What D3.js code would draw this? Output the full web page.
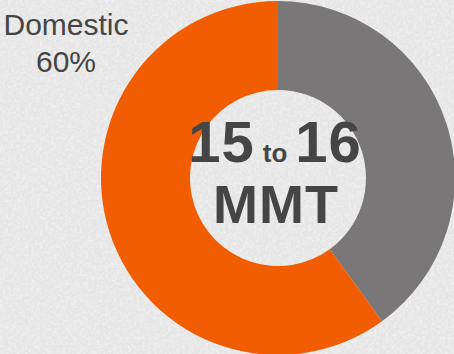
<!DOCTYPE html>
<html><head><meta charset="utf-8">
<script src="https://cdn.jsdelivr.net/npm/d3@7"></script>
<style>html,body{margin:0;padding:0;overflow:hidden;background:#ebebeb}</style>
</head><body>
<script>
const categories = ["Export", "Domestic"];
const shares = [40, 60];
const colors = ["#797777", "#f15d00"];
const labelLines = ["Domestic", "60%"];
const centerLine1 = ["15", "to", "16"];
const centerLine2 = "MMT";

const W = 454, H = 354;
const svg = d3.select("body").append("svg").attr("width", W).attr("height", H);
const defs = svg.append("defs");
const f = defs.append("filter").attr("id","tex").attr("x",0).attr("y",0).attr("width","100%").attr("height","100%");
f.append("feTurbulence").attr("type","fractalNoise").attr("baseFrequency",0.35).attr("numOctaves",3).attr("seed",4).attr("result","n");
f.append("feColorMatrix").attr("in","n").attr("type","matrix")
 .attr("values","0 0 0 0 1  0 0 0 0 1  0 0 0 0 1  0.9 0 0 0 -0.35").attr("result","w");
f.append("feComposite").attr("in","w").attr("in2","SourceGraphic").attr("operator","over");
svg.append("rect").attr("width",W).attr("height",H).attr("fill","#e6e6e6").attr("filter","url(#tex)");

const cx = 278, cy = 178, R = 177, r = 88;
const pie = d3.pie().sort(null).value(d => d);
const arc = d3.arc().innerRadius(r).outerRadius(R);
const g = svg.append("g").attr("transform", `translate(${cx},${cy})`);
g.selectAll("path").data(pie(shares)).join("path")
  .attr("d", arc).attr("fill", (d,i) => colors[i]);

// label
const lab = svg.append("text").attr("font-family","Arial, 'Liberation Sans', sans-serif")
  .attr("font-size",30).attr("fill","#454545").attr("text-anchor","middle");
lab.selectAll("tspan").data(labelLines).join("tspan")
  .attr("x",66).attr("y",(d,i)=>35+i*37).text(d=>d);

// center text
const t1 = svg.append("text").attr("font-family","Arial, 'Liberation Sans', sans-serif")
  .attr("font-weight","bold").attr("fill","#454545").attr("text-anchor","middle")
  .attr("x",275).attr("y",162);
t1.append("tspan").attr("font-size",58).attr("letter-spacing",1).text(centerLine1[0]);
t1.append("tspan").attr("font-size",26).attr("dx",8).text(centerLine1[1]);
t1.append("tspan").attr("font-size",58).attr("dx",8).attr("letter-spacing",1).text(centerLine1[2]);
svg.append("text").attr("font-family","Arial, 'Liberation Sans', sans-serif")
  .attr("font-weight","bold").attr("fill","#454545").attr("text-anchor","middle")
  .attr("x",276).attr("y",223).attr("font-size",54).attr("letter-spacing",1).text(centerLine2);
</script>
</body></html>
